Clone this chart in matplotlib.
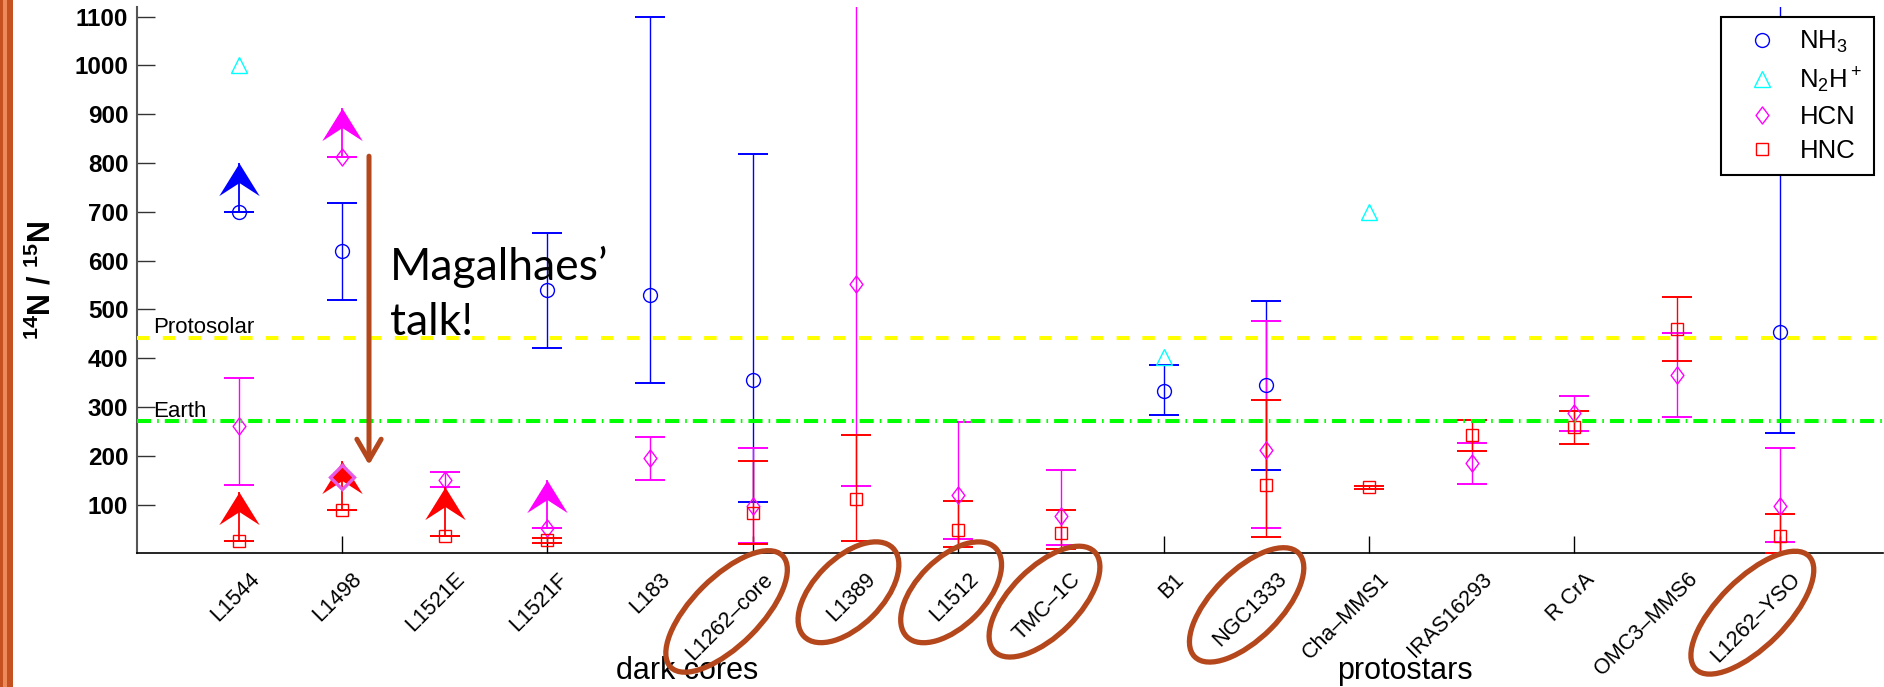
import numpy as np
import matplotlib.pyplot as plt
from matplotlib.path import Path
from matplotlib.patches import Ellipse, Rectangle
from matplotlib.lines import Line2D
from matplotlib.transforms import ScaledTranslation

plt.rcParams['font.family'] = ['Liberation Sans', 'DejaVu Sans']
plt.rcParams['mathtext.fontset'] = 'custom'
plt.rcParams['mathtext.rm'] = 'Liberation Sans'
plt.rcParams['mathtext.bf'] = 'Liberation Sans:bold'
plt.rcParams['mathtext.it'] = 'Liberation Sans:italic'

# =========================
# DATA  (14N/15N ratios)
# =========================

sources = ["L1544", "L1498", "L1521E", "L1521F", "L183", "L1262–core", "L1389",
           "L1512", "TMC–1C", "B1", "NGC1333", "Cha–MMS1", "IRAS16293", "R CrA",
           "OMC3–MMS6", "L1262–YSO"]
circled = ["L1262–core", "L1389", "L1512", "TMC–1C", "NGC1333", "L1262–YSO"]
nan = np.nan

# value, lower end, upper end of error bar, 1 = lower limit (arrow)
nh3 = [700, 619, nan, 540, 530, 355, nan, nan, nan, 333, 344, nan, nan, nan, nan, 453]
nh3_lo = [700, 519, nan, 421, 350, 106, nan, nan, nan, 283, 171, nan, nan, nan, nan, 247]
nh3_hi = [700, 719, nan, 657, 1100, 818, nan, nan, nan, 385, 517, nan, nan, nan, nan, 1400]
nh3_lim = [1, 0, 0, 0, 0, 0, 0, 0, 0, 0, 0, 0, 0, 0, 0, 0]

n2h = [1000, nan, nan, nan, nan, nan, nan, nan, nan, 403, nan, 700, nan, nan, nan, nan]

hcn = [261, 813, 150, 51, 195, 97, 551, 120, 76, nan, 212, nan, 185, 287, 365, 96]
hcn_lo = [140, 813, 135, 51, 150, 22, 137, 29, 18, nan, 52, nan, 142, 251, 280, 23]
hcn_hi = [360, 813, 167, 51, 239, 215, 1400, 270, 171, nan, 477, nan, 227, 323, 451, 215]
hcn_lim = [0, 1, 0, 1, 0, 0, 0, 0, 0, 0, 0, 0, 0, 0, 0, 0]
hcn_extra_src = ["L1498"]
hcn_extra = [157]

hnc = [26, 89, 36, 27, nan, 83, 111, 48, 41, nan, 140, 135, 242, 258, 460, 36]
hnc_lo = [26, 89, 36, 22, nan, 20, 26, 12, 9, nan, 34, 132, 210, 225, 395, 0]
hnc_hi = [26, 89, 36, 31, nan, 189, 242, 107, 89, nan, 314, 138, 273, 292, 525, 80]
hnc_lim = [1, 1, 1, 0, 0, 0, 0, 0, 0, 0, 0, 0, 0, 0, 0, 0]

protosolar = 441
earth = 272
arrow_len = 100      # length of the lower-limit arrows (ratio units)
talk_from, talk_to = 814, 181

# =========================
# FIGURE
# =========================

W, H = 1884, 687
fig = plt.figure(figsize=(W / 100, H / 100), dpi=100)
ax = fig.add_axes([136.6 / W, 1 - 553.3 / H, 1745.9 / W, 546.4 / H])

x = np.arange(1, len(sources) + 1)

diamond = Path([(0, 1), (0.75, 0), (0, -1), (-0.75, 0), (0, 1)],
               [Path.MOVETO, Path.LINETO, Path.LINETO, Path.LINETO, Path.CLOSEPOLY])
head = Path([(0, 0), (0.62, -1), (0, -0.6), (-0.62, -1), (0, 0)],
            [Path.MOVETO, Path.LINETO, Path.LINETO, Path.LINETO, Path.CLOSEPOLY])


def draw_species(vals, lo, hi, lim, color, marker, ms):
    v = np.array(vals, float)
    lo = np.array(lo, float)
    hi = np.array(hi, float)
    ax.errorbar(x, v, yerr=[v - lo, hi - v], fmt='none', ecolor=color,
                elinewidth=1.0, capsize=10.8, capthick=1.4, zorder=3)
    ax.plot(x, v, ls='none', marker=marker, ms=ms, mfc='none', mec=color,
            mew=1.0, zorder=4)
    lim = np.array(lim, bool)
    if lim.any():
        ax.vlines(x[lim], v[lim], v[lim] + arrow_len, color=color, lw=1.3, zorder=4)
        ax.plot(x[lim], v[lim] + arrow_len, ls='none', marker=head, ms=47,
                color=color, mew=0, zorder=4)


draw_species(nh3, nh3_lo, nh3_hi, nh3_lim, 'blue', 'o', 10)
draw_species(hcn, hcn_lo, hcn_hi, hcn_lim, 'magenta', diamond, 12.3)
draw_species(hnc, hnc_lo, hnc_hi, hnc_lim, 'red', 's', 8.4)
ax.plot(x, n2h, ls='none', marker='^', ms=11, mfc='none', mec='cyan', mew=1.0, zorder=4)

xe = [sources.index(s) + 1 for s in hcn_extra_src]
ax.plot(xe, hcn_extra, ls='none', marker='D', ms=12, mfc='none', mec='#E65AE6',
        mew=2.4, zorder=5)

# reference ratios
ax.axhline(protosolar, color='#FFFF00', lw=2.9, dashes=(3.1, 3.3), zorder=6)
ax.axhline(earth, color='#00FF00', lw=2.9, dashes=(3.5, 1.5, 0.4, 1.5), zorder=6)
ax.text(0.16, protosolar + 10, "Protosolar", fontsize=16, va='baseline', zorder=7)
ax.text(0.16, earth + 8, "Earth", fontsize=16, va='baseline', zorder=7)

# axes
ax.set_xlim(0, len(sources) + 1)
ax.set_ylim(0, 1120)
ax.set_yticks(np.arange(100, 1101, 100))
ax.tick_params(axis='y', direction='in', length=13, width=1, color='#333333', pad=6,
               labelsize=17.5)
for lab in ax.get_yticklabels():
    lab.set_fontweight('bold')

ax.set_xticks(x)
ax.set_xticklabels(sources, rotation=45, ha='right', va='center',
                   rotation_mode='anchor', fontsize=15.5)
ax.tick_params(axis='x', which='major', length=0, pad=16.5)
ax.xaxis.remove_overlapping_locs = False
ax.set_xticks(x[1::2], minor=True)
ax.tick_params(axis='x', which='minor', direction='in', length=12, width=1, color='black')
shift = ScaledTranslation(0.17, 0, fig.dpi_scale_trans)
for lab in ax.get_xticklabels():
    lab.set_transform(lab.get_transform() + shift)

ax.spines['top'].set_visible(False)
ax.spines['right'].set_visible(False)
ax.spines['left'].set_color('#555555')
ax.spines['left'].set_linewidth(1.5)
ax.spines['bottom'].set_linewidth(1.2)

ax.set_ylabel(r'$^{\mathbf{14}}$N / $^{\mathbf{15}}$N', fontsize=22, fontweight='bold',
              va='center')
ax.yaxis.set_label_coords(-0.054, 0.5)

# legend
handles = [
    Line2D([], [], ls='none', marker='o', ms=10, mfc='none', mec='blue', mew=1.0),
    Line2D([], [], ls='none', marker='^', ms=11, mfc='none', mec='cyan', mew=1.0),
    Line2D([], [], ls='none', marker=diamond, ms=12.3, mfc='none', mec='magenta', mew=1.0),
    Line2D([], [], ls='none', marker='s', ms=8.4, mfc='none', mec='red', mew=1.0),
]
labels = [r'NH$_3$', r'N$_2$H$^+$', 'HCN', 'HNC']
leg = ax.legend(handles, labels, loc='upper right', bbox_to_anchor=(1874 / W, 1 - 17 / H),
                bbox_transform=fig.transFigure, fontsize=18.5, fancybox=False,
                edgecolor='black', framealpha=1, borderpad=0.45, handlelength=2.3,
                handletextpad=0.3, labelspacing=0.4, borderaxespad=0)
leg.get_frame().set_linewidth(1.5)
leg.set_zorder(10)

# slide annotations
brown = '#B4471C'
ax.annotate('', xy=(2.263, talk_to), xytext=(2.263, talk_from),
            arrowprops=dict(arrowstyle='->,head_length=0.6,head_width=0.35', color=brown,
                            lw=3.6, mutation_scale=25, shrinkA=0, shrinkB=0), zorder=8)
ax.text(2.467, 560, "Magalhaes’", fontsize=32, family=['Lato', 'DejaVu Sans'],
        va='baseline', zorder=8)
ax.text(2.467, 447, "talk!", fontsize=32, family=['Lato', 'DejaVu Sans'],
        va='baseline', zorder=8)

fig.text(687 / W, 1 - 679 / H, "dark cores", ha='center', va='baseline', fontsize=22)
fig.text(1405 / W, 1 - 679 / H, "protostars", ha='center', va='baseline', fontsize=22)

# overlay in pixel coordinates for the hand-drawn marks
ov = fig.add_axes([0, 0, 1, 1], zorder=20)
ov.set_xlim(0, W)
ov.set_ylim(H, 0)
ov.axis('off')
ov.patch.set_alpha(0)
ov.add_patch(Rectangle((0, 0), 12.7, H, color='#C4511F', lw=0))
ov.add_patch(Rectangle((2.7, 0), 4.6, H, color='#EE8A5A', lw=0))

fig.canvas.draw()
inv = ov.transData.inverted()
for lab in ax.get_xticklabels():
    if lab.get_text() in circled:
        bb = lab.get_window_extent()
        (x0, y0), (x1, y1) = inv.transform([(bb.x0, bb.y0), (bb.x1, bb.y1)])
        cx, cy = (x0 + x1) / 2 - 3, (y0 + y1) / 2 - 5
        length = np.sqrt(2) * abs(x1 - x0) - 25
        ov.add_patch(Ellipse((cx, cy), 0.6 * length + 92, 68, angle=-45,
                             fill=False, ec=brown, lw=3.8))

fig.savefig("out.png", dpi=100)
